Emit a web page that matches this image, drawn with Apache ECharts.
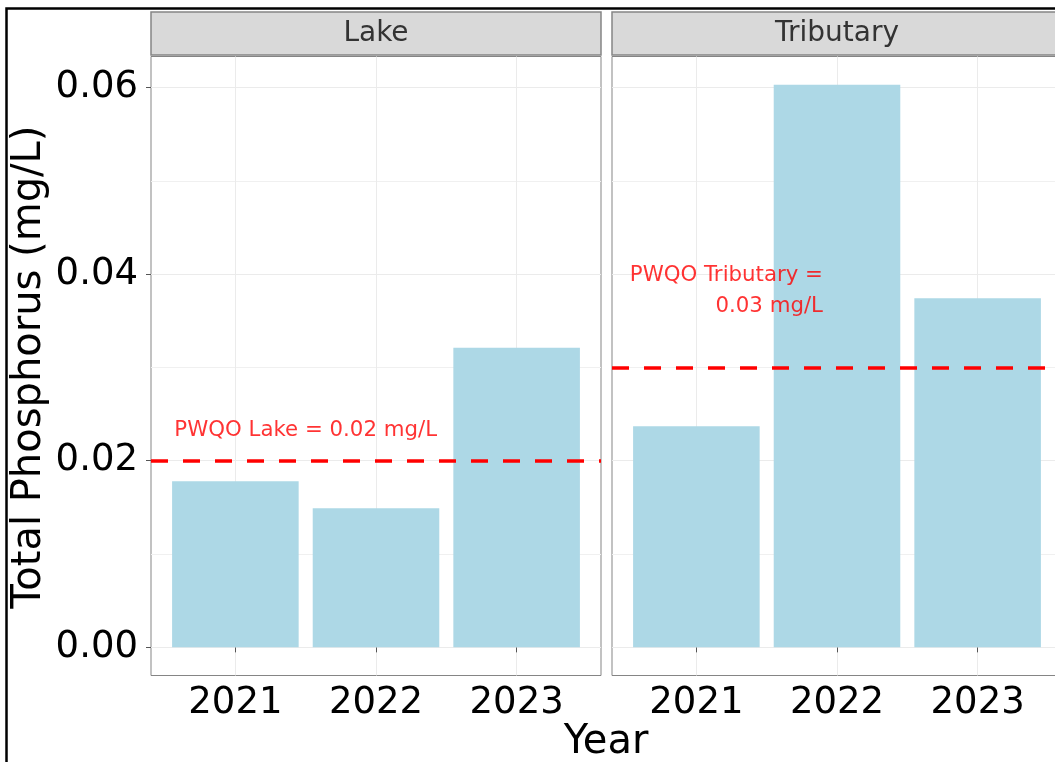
<!DOCTYPE html>
<html>
<head>
<meta charset="utf-8">
<script src="https://cdn.jsdelivr.net/npm/echarts@6/dist/echarts.min.js"></script>
<title>Total Phosphorus</title>
<style>
  html, body { margin: 0; padding: 0; background: #fff; }
  #main { width: 1055px; height: 762px; }
</style>
</head>
<body>
<div id="main"></div>
<script>
// data
var panels = ['Lake', 'Tributary'];
var years = [2021, 2022, 2023];
var lakeTP = [0.0178, 0.0149, 0.0321];
var tribTP = [0.0237, 0.0603, 0.0374];
var pwqo = [0.02, 0.03];
var pwqoText = ['PWQO Lake = 0.02 mg/L', 'PWQO Tributary =\n0.03 mg/L'];
var pwqoTextPos = [[2021.5, 0.0232], [2021.9, 0.0382]];
var yTicks = [0, 0.02, 0.04, 0.06];
var yMinor = [0.01, 0.03, 0.05];

var FONT = 'DejaVu Sans';
var values = [lakeTP, tribTP];

// ggplot style: 5% expansion on y, 0.6 on the discrete x
var allVals = lakeTP.concat(tribTP);
var yMax = Math.max.apply(null, allVals) * 1.05;
var yMin = -Math.max.apply(null, allVals) * 0.05;
var xMin = years[0] - 0.6, xMax = years[years.length - 1] + 0.6;

var panelLeft = [151, 612], panelW = 450, panelTop = 56.5, panelH = 619;

var myChart = echarts.init(document.getElementById('main'), null, { renderer: 'canvas' });

var grids = [], xAxes = [], yAxes = [], series = [];
panels.forEach(function (p, i) {
    grids.push({
        left: panelLeft[i], top: panelTop, width: panelW, height: panelH,
        show: true, borderColor: '#858585', borderWidth: 1, backgroundColor: '#fff',
        containLabel: false, outerBoundsMode: 'none'
    });
    xAxes.push({
        type: 'value', gridIndex: i, min: xMin, max: xMax,
        axisLine: { show: false },
        axisTick: { show: true, customValues: years, length: 5, lineStyle: { color: '#555', width: 1 } },
        axisLabel: {
            customValues: years, fontSize: 37, color: '#000', fontFamily: FONT, margin: 9,
            formatter: function (v) { return String(v); }
        },
        splitLine: { show: true, lineStyle: { color: '#EBEBEB', width: 1 } }
    });
    // major y axis
    yAxes.push({
        type: 'value', gridIndex: i, min: yMin, max: yMax,
        axisLine: { show: false },
        axisTick: { show: i === 0, customValues: yTicks, length: 5, lineStyle: { color: '#555', width: 1 } },
        axisLabel: {
            show: i === 0, customValues: yTicks, fontSize: 37, color: '#000', fontFamily: FONT, margin: 13,
            formatter: function (v) { return v.toFixed(2); }
        },
        splitLine: { show: true, lineStyle: { color: '#EBEBEB', width: 1 } }
    });
    // minor grid lines
    yAxes.push({
        type: 'value', gridIndex: i, min: yMin, max: yMax,
        axisLine: { show: false },
        axisTick: { show: false, customValues: yMinor },
        axisLabel: { show: false },
        splitLine: { show: true, lineStyle: { color: '#F0F0F0', width: 1 } }
    });
    series.push({
        type: 'bar', xAxisIndex: i, yAxisIndex: 2 * i,
        data: years.map(function (y, k) { return [y, values[i][k]]; }),
        barWidth: '90%',
        itemStyle: { color: '#ADD8E6' },
        markLine: {
            silent: true, symbol: ['none', 'none'],
            label: { show: false },
            lineStyle: { color: '#FF0000', type: [17, 15], width: 3.5 },
            data: [{ yAxis: pwqo[i] }],
            z: 5
        }
    });
    series.push({
        type: 'scatter', xAxisIndex: i, yAxisIndex: 2 * i,
        symbolSize: 0, silent: true, z: 10,
        data: [pwqoTextPos[i]],
        label: {
            show: true, position: 'inside',
            formatter: pwqoText[i],
            color: '#FF0000', fontSize: 21.3, fontFamily: FONT,
            align: i === 0 ? 'center' : 'right', verticalAlign: 'middle',
            lineHeight: 31
        }
    });
});

var graphics = [
    // black frame, clipped by the page on right and bottom
    { type: 'rect', shape: { x: 6.5, y: 8.5, width: 1200, height: 900 },
      style: { fill: 'none', stroke: '#000', lineWidth: 2.5 }, z: 100 },
    { type: 'text', x: 30, y: 367, rotation: Math.PI / 2,
      style: { text: 'Total Phosphorus (mg/L)', font: '40px "DejaVu Sans"', fill: '#000',
               textAlign: 'center', textVerticalAlign: 'middle' } },
    { type: 'text', x: 606, y: 743,
      style: { text: 'Year', font: '40px "DejaVu Sans"', fill: '#000',
               textAlign: 'center', textVerticalAlign: 'middle' } }
];
panels.forEach(function (p, i) {
    graphics.push({ type: 'rect', shape: { x: panelLeft[i], y: 12, width: panelW, height: 43 },
        style: { fill: '#D9D9D9', stroke: '#858585', lineWidth: 1.5 } });
    graphics.push({ type: 'text', x: panelLeft[i] + panelW / 2, y: 34,
        style: { text: p, font: '28px "DejaVu Sans"', fill: '#333',
                 textAlign: 'center', textVerticalAlign: 'middle' } });
});

var option = {
    animation: false,
    backgroundColor: '#fff',
    grid: grids,
    xAxis: xAxes,
    yAxis: yAxes,
    series: series,
    graphic: graphics
};
myChart.setOption(option);
</script>
</body>
</html>
